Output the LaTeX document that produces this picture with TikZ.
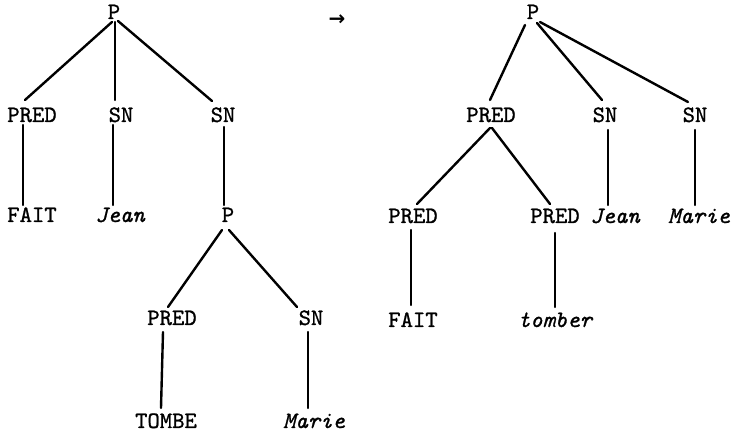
\documentclass[tikz,border=0pt]{standalone}
\usepackage{fontspec}
\newfontfamily\arrowfont{DejaVu Sans}
\newfontfamily\tw{lmmono10-regular.otf}[FakeBold=1.0, ItalicFont=lmmono10-italic.otf, ItalicFeatures={FakeBold=1.0}]
\usetikzlibrary{calc}
\begin{document}
\begin{tikzpicture}[x=1pt,y=-1pt,
  lab/.style={font=\fontsize{23.5}{23.5}\selectfont\tw, inner sep=0pt, text height=14pt, text depth=0pt, anchor=center},
  ilab/.style={lab, font=\fontsize{23.5}{23.5}\selectfont\tw\itshape},
  edge/.style={line width=2.4pt, line cap=round}]
\useasboundingbox (0,0) rectangle (734,435);
% left tree
\node[lab] (lp) at (114,12) {P};
\node[lab] (lpred) at (32,115) {PRED};
\node[lab] (lsn1) at (121,115) {SN};
\node[lab] (lsn2) at (223,115) {SN};
\node[lab] (lfait) at (32,215) {FAIT};
\node[ilab] (ljean) at (120,215) {Jean};
\node[lab] (lp2) at (228,215) {P};
\node[lab] (lpred2) at (172,318) {PRED};
\node[lab] (lsn3) at (311,318) {SN};
\node[lab] (ltombe) at (166,421) {TOMBE};
\node[ilab] (lmarie) at (314,421) {Marie};
% arrow
\node[inner sep=0pt, font=\fontsize{20}{20}\selectfont\arrowfont\bfseries] (arr) at (337,20) {→};
% right tree
\node[lab] (rp) at (533,12) {P};
\node[lab] (rpred) at (491,115) {PRED};
\node[lab] (rsn1) at (605,115) {SN};
\node[lab] (rsn2) at (695,115) {SN};
\node[lab] (rpred1) at (413,216) {PRED};
\node[lab] (rpred2) at (555,216) {PRED};
\node[ilab] (rjean) at (615,216) {Jean};
\node[ilab] (rmarie) at (699,216) {Marie};
\node[lab] (rfait) at (413,320) {FAIT};
\node[ilab] (rtomber) at (555,320) {tomber};
% left edges
\draw[edge] ($(lp)+(-2,10)$) -- ($(lpred)+(-7,-15)$);
\draw[edge] ($(lp)+(1,10)$) -- ($(lsn1)+(-6,-15)$);
\draw[edge] ($(lp)+(4,9)$) -- ($(lsn2)+(-11,-14)$);
\draw[edge] ($(lpred)+(-9,10)$) -- ($(lfait)+(-9,-10)$);
\draw[edge] ($(lsn1)+(-8,10)$) -- ($(ljean)+(-7,-10)$);
\draw[edge] ($(lsn2)+(1,12)$) -- ($(lp2)+(-4,-10)$);
\draw[edge] ($(lp2)+(-6,15)$) -- ($(lpred2)+(-4,-11)$);
\draw[edge] ($(lp2)+(1,15)$) -- ($(lsn3)+(-14,-11)$);
\draw[edge] ($(lpred2)+(-9,14)$) -- ($(ltombe)+(-5,-13)$);
\draw[edge] ($(lsn3)+(-3,14)$) -- ($(lmarie)+(-6,-13)$);
% right edges
\draw[edge] ($(rp)+(-8,13)$) -- ($(rpred)+(-1,-15)$);
\draw[edge] ($(rp)+(4,11)$) -- ($(rsn1)+(-3,-15)$);
\draw[edge] ($(rp)+(7,10)$) -- ($(rsn2)+(-7,-13)$);
\draw[edge] ($(rpred)+(-1,13)$) -- ($(rpred1)+(4,-12)$);
\draw[edge] ($(rpred)+(1,13)$) -- ($(rpred2)+(-5,-12)$);
\draw[edge] ($(rsn1)+(3,15)$) -- ($(rjean)+(-7,-11)$);
\draw[edge] ($(rsn2)+(0,15)$) -- ($(rmarie)+(-4,-11)$);
\draw[edge] ($(rpred1)+(-2,14)$) -- ($(rfait)+(-2,-15)$);
\draw[edge] ($(rpred2)+(0,17)$) -- ($(rtomber)+(0,-13)$);
\end{tikzpicture}
\end{document}
